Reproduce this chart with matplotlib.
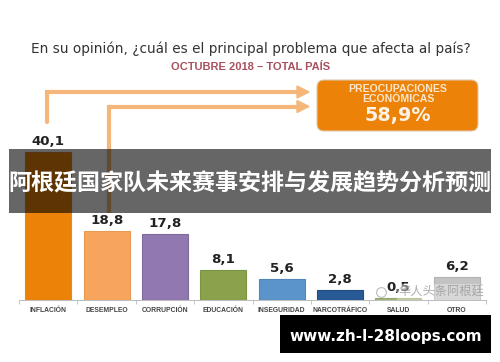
import matplotlib
matplotlib.use('Agg')
import matplotlib.pyplot as plt
from matplotlib.patches import FancyBboxPatch, Rectangle, Polygon

categories = ['INFLACIÓN', 'DESEMPLEO', 'CORRUPCIÓN', 'EDUCACIÓN',
              'INSEGURIDAD', 'NARCOTRÁFICO', 'SALUD', 'OTRO']
values = [40.1, 18.8, 17.8, 8.1, 5.6, 2.8, 0.5, 6.2]
value_labels = ['40,1', '18,8', '17,8', '8,1', '5,6', '2,8', '0,5', '6,2']
bar_colors = ['#EC8208', '#F7A55C', '#9278B0', '#8BA24C',
              '#5B93CB', '#285A96', '#A3B67A', '#C4C2C4']
edge_colors = ['#D98A3A', '#E59A55', '#7F6A9C', '#7D9345',
               '#5286B8', '#234F85', '#93A66C', '#B2B0B2']

W, H = 500, 362
ARROW = '#F5B779'

plt.rcParams['font.family'] = ['Liberation Sans', 'DejaVu Sans']
fig = plt.figure(figsize=(W / 100, H / 100), dpi=100, facecolor='white')

# bars, axes placed in pixels of the picture
left, right, base, top = 19, 486, 300, 130
ax = fig.add_axes([left / W, 1 - base / H, (right - left) / W, (base - top) / H])
xs = list(range(len(values)))
ax.bar(xs, values, width=0.79, color=bar_colors, edgecolor=edge_colors, linewidth=0.8)
ax.set_xlim(-0.5, 7.5)
ax.set_ylim(0, (base - top) / 3.68)
ax.set_yticks([])
ax.set_xticks([x - 0.5 for x in xs] + [7.5])
ax.set_xticklabels([])
ax.tick_params(axis='x', length=3, width=0.6, color='#BBBBBB', direction='out')
for s in ['top', 'left', 'right']:
    ax.spines[s].set_visible(False)
ax.spines['bottom'].set_color('#BBBBBB')
ax.spines['bottom'].set_linewidth(0.7)
ax.patch.set_alpha(0)
for x, v, lab, cat in zip(xs, values, value_labels, categories):
    ax.annotate(lab, (x, v), xytext=(0, 3), textcoords='offset points', ha='center',
                va='bottom', fontsize=9.6, fontweight='bold', color='#222222',
                family='DejaVu Sans')
    ax.annotate(cat, (x, 0), xytext=(0, -4.8), textcoords='offset points', ha='center',
                va='top', fontsize=4.9, fontweight='bold', color='#444444')

# overlay in pixel coordinates
ov = fig.add_axes([0, 0, 1, 1], facecolor='none')
ov.set_xlim(0, W)
ov.set_ylim(H, 0)
ov.axis('off')

ov.text(251, 49, 'En su opinión, ¿cuál es el principal problema que afecta al país?',
        ha='center', va='center', fontsize=9.8, color='#333333', family='DejaVu Sans')
ov.text(251, 67.5, 'OCTUBRE 2018 – TOTAL PAÍS', ha='center', va='center',
        fontsize=8, fontweight='bold', color='#A8505F')

# connector arrows
ov.plot([47, 47, 300], [122, 92, 92], color=ARROW, lw=3, solid_capstyle='round',
        solid_joinstyle='miter', zorder=2)
ov.plot([109, 109, 300], [213, 106.5, 106.5], color=ARROW, lw=3, solid_capstyle='butt',
        solid_joinstyle='miter', zorder=2)
ov.add_patch(Polygon([[297, 86], [309, 92], [297, 98]], color=ARROW, zorder=2))
ov.add_patch(Polygon([[297, 100.5], [309, 106.5], [297, 112.5]], color=ARROW, zorder=2))

ov.add_patch(FancyBboxPatch((321, 84), 153, 43, boxstyle='round,pad=4,rounding_size=7',
                            fc='#EC8208', ec='#DDC9B0', lw=0.8, zorder=3))
ov.text(398, 89.5, 'PREOCUPACIONES', ha='center', va='center', fontsize=7.6,
        fontweight='bold', color='#FBE6CC', zorder=4)
ov.text(398, 99.5, 'ECONÓMICAS', ha='center', va='center', fontsize=7.6,
        fontweight='bold', color='#FBE6CC', zorder=4)
ov.text(398, 116, '58,9%', ha='center', va='center', fontsize=13.8,
        fontweight='bold', color='#FDF3E6', zorder=4, family='DejaVu Sans')

# watermark
ov.text(484, 292, '华人头条阿根廷', ha='right', va='center', fontsize=8.8, color='#9A9A9A',
        family=['Noto Sans CJK SC', 'DejaVu Sans'], alpha=0.8, zorder=5,
        bbox=dict(fc='white', ec='none', alpha=0.35, pad=1))
ov.plot([381], [292], marker='o', ms=7, mfc='white', mec='#BBBBBB', mew=0.8, zorder=5)

# title band and url box
ov.add_patch(Rectangle((9, 149), 482, 64, fc='black', alpha=0.6, ec='none', zorder=6))
ov.text(250, 184, '阿根廷国家队未来赛事安排与发展趋势分析预测', ha='center', va='center',
        fontsize=16.6, fontweight='bold', color='white', zorder=7,
        family=['Noto Sans CJK SC', 'DejaVu Sans'])
ov.add_patch(Rectangle((280, 315), 211, 38, fc='black', ec='none', zorder=6))
ov.text(385.5, 336, 'www.zh-l-28loops.com', ha='center', va='center', fontsize=11,
        fontweight='bold', color='white', zorder=7, family='DejaVu Sans')

fig.savefig('out.png', dpi=100)
